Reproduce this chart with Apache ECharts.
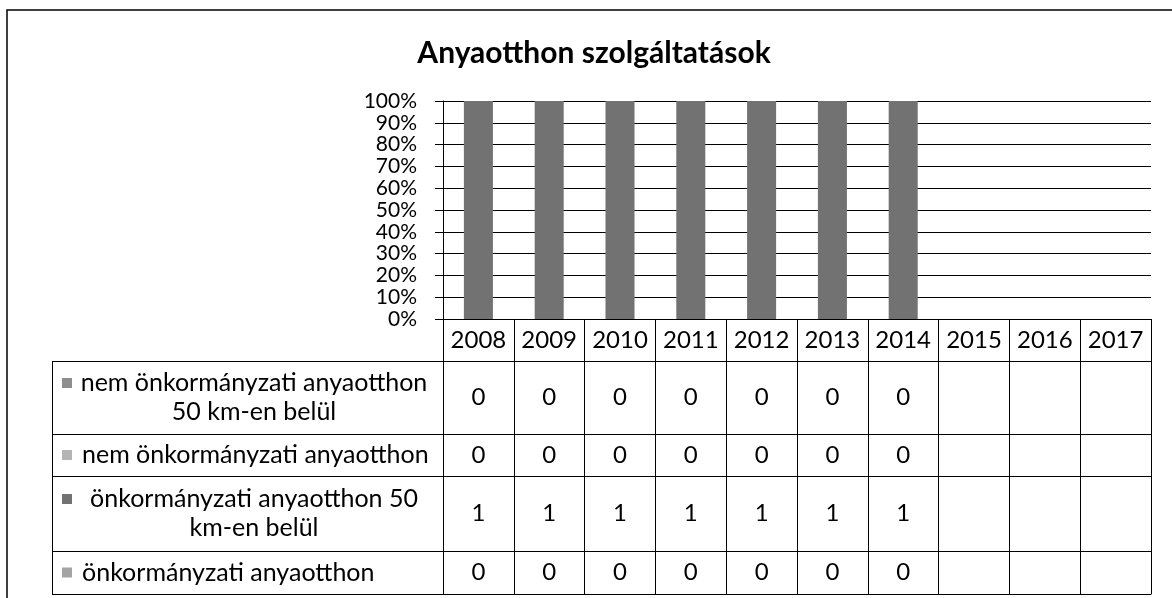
<!DOCTYPE html>
<html>
<head>
<meta charset="utf-8">
<script src="https://cdn.jsdelivr.net/npm/echarts@6/dist/echarts.min.js"></script>
<style>
html,body{margin:0;padding:0;background:#fff;}
#chart{width:1172px;height:598px;}
</style>
</head>
<body>
<div id="chart"></div>
<script>
// ---- data ----
const titleText = 'Anyaotthon szolgáltatások';
const categories = ['2008','2009','2010','2011','2012','2013','2014','2015','2016','2017'];
const seriesNames = [
  'nem önkormányzati anyaotthon 50 km-en belül',
  'nem önkormányzati anyaotthon',
  'önkormányzati anyaotthon 50 km-en belül',
  'önkormányzati anyaotthon'
];
const rowLabels = [
  'nem önkormányzati anyaotthon\n50 km-en belül',
  'nem önkormányzati anyaotthon',
  'önkormányzati anyaotthon 50\nkm-en belül',
  'önkormányzati anyaotthon'
];
const nemOnkormanyzati50 = [0,0,0,0,0,0,0,null,null,null];
const nemOnkormanyzati   = [0,0,0,0,0,0,0,null,null,null];
const onkormanyzati50    = [1,1,1,1,1,1,1,null,null,null];
const onkormanyzati      = [0,0,0,0,0,0,0,null,null,null];
const seriesValues = [nemOnkormanyzati50, nemOnkormanyzati, onkormanyzati50, onkormanyzati];
const yTickStep = 10;

// ---- style / layout ----
const FONT = 'Lato';
const seriesColors = ['#8e8e8e', '#b4b4b4', '#727272', '#a4a4a4'];
const gridL = 443, gridR = 1151, gridT = 101, gridB = 319;
const tableLeft = 52;
const headerRow = {off: 0, h: 42};
const rowLayout = [
  {off: 42, h: 73},
  {off: 115, h: 42},
  {off: 157, h: 75},
  {off: 232, h: 43}
];
const tableBottomOff = 275;

// percentages for 100% stacking
const totals = categories.map((c, i) => seriesValues.reduce((s, arr) => s + (arr[i] == null ? 0 : arr[i]), 0));
const pct = seriesValues.map(arr => arr.map((v, i) => (v == null || totals[i] === 0) ? null : v / totals[i] * 100));

const chart = echarts.init(document.getElementById('chart'), null, {renderer: 'canvas'});

const cellFont = 24;
const xAxes = [];
xAxes.push({
  type: 'category', data: categories, gridIndex: 0, position: 'bottom', offset: headerRow.off,
  axisLine: {show: true, lineStyle: {color: '#000', width: 1}},
  axisTick: {show: true, length: headerRow.h, lineStyle: {color: '#000', width: 1}},
  axisLabel: {fontFamily: FONT, fontSize: cellFont, color: '#000', margin: headerRow.h / 2, verticalAlign: 'middle', interval: 0}
});
rowLayout.forEach((r, k) => {
  xAxes.push({
    type: 'category', data: seriesValues[k].map(v => v == null ? '' : String(v)), gridIndex: 0,
    position: 'bottom', offset: r.off,
    axisLine: {show: true, lineStyle: {color: '#000', width: 1}},
    axisTick: {show: true, length: r.h, lineStyle: {color: '#000', width: 1}},
    axisLabel: {fontFamily: FONT, fontSize: cellFont, color: '#000', margin: r.h / 2, verticalAlign: 'middle', interval: 0}
  });
});
xAxes.push({
  type: 'category', data: categories, gridIndex: 0, position: 'bottom', offset: tableBottomOff,
  axisLine: {show: true, lineStyle: {color: '#000', width: 1}},
  axisTick: {show: false}, axisLabel: {show: false}
});

const series = seriesNames.map((name, k) => ({
  name: name, type: 'bar', stack: 'total', xAxisIndex: 0, yAxisIndex: 0,
  data: pct[k], barWidth: '41%',
  itemStyle: {color: seriesColors[k]},
  silent: true
}));

const graphics = [];
graphics.push({type: 'polyline', shape: {points: [[7, 598], [7, 10], [1172, 10]]}, style: {stroke: '#000', lineWidth: 1.5, fill: null}, silent: true});
const rowTops = rowLayout.map(r => gridB + r.off);
rowTops.concat([gridB + tableBottomOff]).forEach(y => {
  graphics.push({type: 'line', shape: {x1: tableLeft, y1: y + 0.5, x2: gridL, y2: y + 0.5}, style: {stroke: '#000', lineWidth: 1}, silent: true});
});
graphics.push({type: 'line', shape: {x1: tableLeft + 0.5, y1: rowTops[0], x2: tableLeft + 0.5, y2: gridB + tableBottomOff}, style: {stroke: '#000', lineWidth: 1}, silent: true});
const legendFont = 25, legendLH = 29;
rowLabels.forEach((lbl, k) => {
  const top = rowTops[k], h = rowLayout[k].h;
  const twoLine = lbl.indexOf('\n') >= 0;
  const firstLineY = twoLine ? top + h / 2 - legendLH / 2 : top + h / 2;
  graphics.push({type: 'rect', shape: {x: 62, y: firstLineY - 5, width: 10, height: 10}, style: {fill: seriesColors[k]}, silent: true});
  graphics.push({
    type: 'text', silent: true,
    style: twoLine ? {
      text: lbl, x: 254, y: top + h / 2, align: 'center', verticalAlign: 'middle',
      font: legendFont + 'px ' + FONT, fill: '#000', lineHeight: legendLH
    } : {
      text: lbl, x: 82, y: top + h / 2, align: 'left', verticalAlign: 'middle',
      font: legendFont + 'px ' + FONT, fill: '#000'
    }
  });
});

chart.setOption({
  animation: false,
  backgroundColor: '#fff',
  title: {
    text: titleText, left: 589, top: 33, textAlign: 'center',
    textStyle: {fontFamily: FONT, fontWeight: 'bold', fontSize: 30, color: '#000'}
  },
  grid: {left: gridL, right: 1172 - gridR, top: gridT, bottom: 598 - gridB, containLabel: false},
  xAxis: xAxes,
  yAxis: {
    type: 'value', min: 0, max: 100, interval: yTickStep,
    axisLine: {show: true, lineStyle: {color: '#000', width: 1}},
    axisTick: {show: true, length: 8, lineStyle: {color: '#000'}},
    splitLine: {show: true, lineStyle: {color: '#000', width: 1}},
    axisLabel: {formatter: '{value}%', fontFamily: FONT, fontSize: 21, color: '#000', margin: 26, lineHeight: 16,
      showMaxLabel: true, showMinLabel: true}
  },
  graphic: graphics,
  series: series
});
</script>
</body>
</html>
